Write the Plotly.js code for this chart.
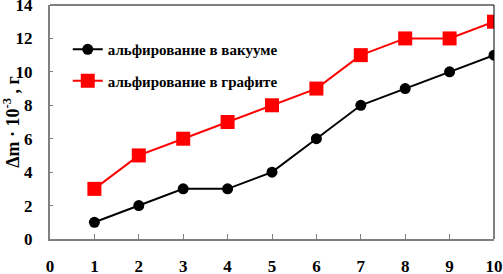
<!DOCTYPE html>
<html><head><meta charset="utf-8">
<script src="https://cdn.plot.ly/plotly-3.0.1.min.js"></script>
<style>html,body{margin:0;padding:0;background:#fff}</style>
</head><body>
<div id="chart" style="width:503px;height:274px"></div>
<script>
const xValues = [1,2,3,4,5,6,7,8,9,10];
const vacuum = [1,2,3,3,4,6,8,9,10,11];
const graphite = [3,5,6,7,8,9,11,12,12,13];
const seriesNames = ['альфирование в вакууме','альфирование в графите'];
const xTicks = [0,1,2,3,4,5,6,7,8,9,10];
const yTicks = [0,2,4,6,8,10,12,14];

const font = {family:'"Liberation Serif", "Times New Roman", serif', color:'#000'};
const traces = [
  {x:xValues, y:vacuum, name:seriesNames[0], legendgroup:'a', mode:'lines+markers',
   line:{color:'#000', width:2}, marker:{symbol:'circle', size:11, color:'#000'}},
  {x:xValues, y:graphite, name:seriesNames[1], legendgroup:'b', mode:'lines+markers',
   line:{color:'#ff0000', width:2}, marker:{symbol:'square', size:14, color:'#ff0000'}}
];
const layout = {
  width:503, height:274,
  margin:{l:50, r:9, t:5, b:35},
  paper_bgcolor:'#fff', plot_bgcolor:'#fff',
  font:Object.assign({size:17, weight:'bold'}, font),
  showlegend:true,
  legend:{x:0.04, y:0.88, xanchor:'left', yanchor:'top', bgcolor:'rgba(0,0,0,0)',
    font:Object.assign({size:15, weight:'bold'}, font), itemwidth:30, tracegroupgap:9},
  xaxis:{range:[0,10], tickvals:xTicks, ticktext:xTicks.map(String), showgrid:false, zeroline:false,
    showline:true, linecolor:'#808080', linewidth:2, ticks:'inside', ticklen:5, tickcolor:'#808080',
    ticklabelstandoff:11, ticklabeloverflow:'allow', tickfont:Object.assign({size:17, weight:'bold'}, font), fixedrange:true},
  yaxis:{range:[0,14], tickvals:yTicks, showgrid:false, zeroline:false,
    showline:true, linecolor:'#808080', linewidth:2, ticks:'inside', ticklen:3, tickcolor:'#808080',
    ticklabelstandoff:12, ticklabeloverflow:'allow', tickfont:Object.assign({size:17, weight:'bold'}, font),
    title:{text:'Δm · 10<sup>-3</sup> , г', standoff:2, font:Object.assign({size:18, weight:'bold'}, font)}},
  shapes:[
    {type:'line', xref:'paper', yref:'paper', x0:0, x1:1, y0:1, y1:1, line:{color:'#000', width:1}},
    {type:'line', xref:'paper', yref:'paper', x0:1, x1:1, y0:0, y1:1, line:{color:'#000', width:1}}
  ]
};
Plotly.newPlot('chart', traces, layout, {displayModeBar:false, staticPlot:true});
</script>
</body></html>
